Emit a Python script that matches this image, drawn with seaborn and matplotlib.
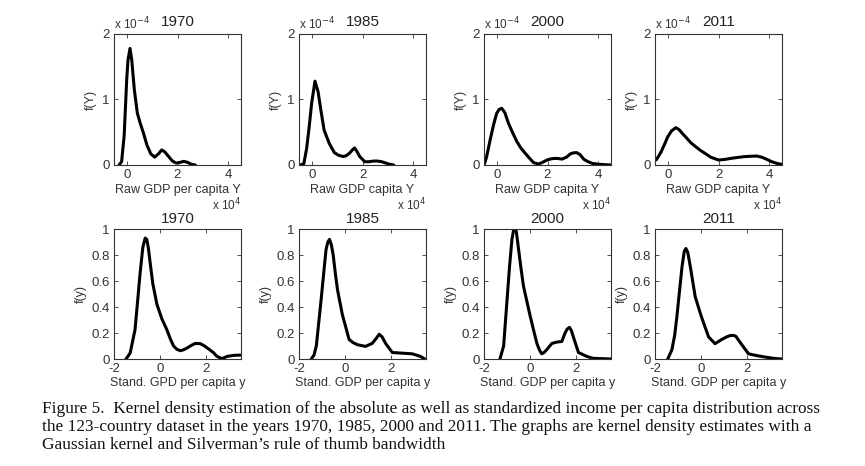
import matplotlib
matplotlib.use("Agg")
import matplotlib.pyplot as plt
import seaborn as sns

# ---- data ----
years = ["1970", "1985", "2000", "2011"]

# raw GDP per capita (x in 1e4, density in 1e-4)
raw_x_1970 = [-0.3, -0.2, -0.1, 0.0, 0.05, 0.13, 0.2, 0.3, 0.42, 0.53, 0.65, 0.8, 0.95, 1.1, 1.25, 1.38, 1.5, 1.65, 1.8, 1.95, 2.1, 2.25, 2.4, 2.55, 2.7]
raw_y_1970 = [0.0, 0.05, 0.45, 1.3, 1.6, 1.78, 1.6, 1.15, 0.79, 0.64, 0.5, 0.3, 0.17, 0.12, 0.17, 0.23, 0.2, 0.13, 0.06, 0.03, 0.04, 0.056, 0.04, 0.01, 0.0]
raw_x_1985 = [-0.44, -0.31, -0.2, -0.1, 0.0, 0.13, 0.25, 0.36, 0.49, 0.69, 0.89, 1.05, 1.23, 1.35, 1.49, 1.6, 1.69, 1.79, 1.89, 2.09, 2.25, 2.43, 2.6, 2.76, 3.03, 3.23]
raw_y_1985 = [0.0, 0.02, 0.25, 0.58, 0.95, 1.28, 1.12, 0.84, 0.53, 0.33, 0.19, 0.15, 0.13, 0.14, 0.18, 0.23, 0.26, 0.2, 0.13, 0.05, 0.05, 0.06, 0.06, 0.05, 0.015, 0.0]
raw_x_2000 = [-0.49, -0.4, -0.26, -0.12, 0.0, 0.1, 0.2, 0.32, 0.46, 0.62, 0.79, 0.95, 1.12, 1.3, 1.45, 1.65, 1.8, 1.98, 2.1, 2.24, 2.4, 2.57, 2.75, 2.9, 3.02, 3.14, 3.28, 3.43, 3.6, 3.76, 4.03, 4.5]
raw_y_2000 = [0.01, 0.12, 0.38, 0.62, 0.79, 0.85, 0.865, 0.8, 0.64, 0.5, 0.36, 0.26, 0.18, 0.1, 0.036, 0.015, 0.04, 0.076, 0.09, 0.1, 0.1, 0.09, 0.12, 0.17, 0.185, 0.19, 0.16, 0.087, 0.05, 0.025, 0.01, 0.0]
raw_x_2011 = [-0.45, -0.35, -0.26, -0.12, 0.0, 0.15, 0.32, 0.45, 0.58, 0.75, 0.91, 1.1, 1.3, 1.5, 1.69, 2.0, 2.25, 2.47, 2.75, 2.99, 3.25, 3.5, 3.7, 3.9, 4.1, 4.29, 4.48]
raw_y_2011 = [0.08, 0.14, 0.2, 0.32, 0.43, 0.52, 0.57, 0.54, 0.48, 0.41, 0.34, 0.28, 0.22, 0.17, 0.12, 0.076, 0.085, 0.1, 0.115, 0.127, 0.133, 0.137, 0.12, 0.087, 0.05, 0.025, 0.01]

# standardized GDP per capita
std_x_1970 = [-1.48, -1.3, -1.09, -0.98, -0.87, -0.75, -0.65, -0.58, -0.51, -0.42, -0.32, -0.14, 0.07, 0.29, 0.45, 0.58, 0.72, 0.87, 1.0, 1.16, 1.35, 1.52, 1.74, 1.92, 2.1, 2.3, 2.46, 2.68, 2.9, 3.19, 3.48]
std_y_1970 = [0.0, 0.046, 0.225, 0.44, 0.66, 0.86, 0.93, 0.92, 0.85, 0.72, 0.58, 0.42, 0.31, 0.225, 0.15, 0.1, 0.075, 0.064, 0.07, 0.084, 0.105, 0.12, 0.118, 0.1, 0.077, 0.05, 0.02, 0.003, 0.02, 0.028, 0.03]
std_x_1985 = [-1.47, -1.35, -1.25, -1.04, -0.93, -0.83, -0.75, -0.68, -0.6, -0.52, -0.42, -0.33, -0.12, 0.17, 0.35, 0.53, 0.88, 1.17, 1.35, 1.47, 1.6, 1.75, 2.04, 2.47, 2.9, 3.26, 3.45]
std_y_1985 = [0.0, 0.03, 0.1, 0.46, 0.66, 0.84, 0.9, 0.92, 0.88, 0.8, 0.65, 0.53, 0.34, 0.15, 0.125, 0.11, 0.097, 0.12, 0.16, 0.19, 0.17, 0.12, 0.05, 0.045, 0.04, 0.02, 0.0]
std_x_2000 = [-1.31, -1.15, -1.0, -0.89, -0.79, -0.69, -0.6, -0.5, -0.4, -0.29, 0.0, 0.15, 0.29, 0.4, 0.5, 0.6, 0.71, 0.94, 1.15, 1.37, 1.51, 1.6, 1.7, 1.78, 1.87, 2.09, 2.45, 2.74, 3.5]
std_y_2000 = [0.0, 0.1, 0.46, 0.72, 0.92, 1.02, 0.98, 0.84, 0.7, 0.56, 0.33, 0.22, 0.12, 0.07, 0.04, 0.05, 0.07, 0.12, 0.13, 0.135, 0.2, 0.23, 0.243, 0.22, 0.17, 0.05, 0.02, 0.005, 0.0]
std_x_2011 = [-1.45, -1.27, -1.15, -1.05, -0.94, -0.83, -0.73, -0.66, -0.58, -0.47, -0.26, 0.0, 0.32, 0.6, 0.89, 1.1, 1.25, 1.4, 1.5, 1.6, 1.76, 2.05, 2.41, 2.77, 3.13, 3.49]
std_y_2011 = [0.0, 0.07, 0.18, 0.33, 0.52, 0.71, 0.83, 0.85, 0.82, 0.71, 0.48, 0.33, 0.17, 0.118, 0.15, 0.17, 0.18, 0.182, 0.175, 0.15, 0.11, 0.04, 0.026, 0.015, 0.005, 0.0]

raw_curves = [(raw_x_1970, raw_y_1970), (raw_x_1985, raw_y_1985),
              (raw_x_2000, raw_y_2000), (raw_x_2011, raw_y_2011)]
std_curves = [(std_x_1970, std_y_1970), (std_x_1985, std_y_1985),
              (std_x_2000, std_y_2000), (std_x_2011, std_y_2011)]

raw_xlabels = ["Raw GDP per capita Y", "Raw GDP capita Y", "Raw GDP capita Y", "Raw GDP capita Y"]
std_xlabels = ["Stand. GPD per capita y", "Stand. GDP per capita y",
               "Stand. GDP per capita y", "Stand. GDP per capita y"]

raw_xticks = [0, 2, 4]
raw_yticks = [0, 1, 2]
std_xticks = [-2, 0, 2]
std_yticks = [0, 0.2, 0.4, 0.6, 0.8, 1]
std_ytick_labels = ["0", "0.2", "0.4", "0.6", "0.8", "1"]

caption = ("Figure 5.  Kernel density estimation of the absolute as well as standardized income per capita distribution across\n"
           "the 123-country dataset in the years 1970, 1985, 2000 and 2011. The graphs are kernel density estimates with a\n"
           "Gaussian kernel and Silverman\u2019s rule of thumb bandwidth")

# ---- style ----
sns.set_theme(style="ticks")
plt.rcParams["font.family"] = ["Liberation Sans", "DejaVu Sans"]
plt.rcParams["axes.linewidth"] = 0.8
plt.rcParams["axes.edgecolor"] = "#333333"
plt.rcParams["axes.unicode_minus"] = False

W, H = 865, 466
fig = plt.figure(figsize=(W / 100, H / 100), dpi=100)
fig.patch.set_facecolor("white")

lefts = [114, 299, 484, 655]
ax_w = 127


def make_ax(left, top, height):
    return fig.add_axes([left / W, 1 - (top + height) / H, ax_w / W, height / H])


def style_ax(ax):
    ax.tick_params(direction="in", top=True, right=True, length=3, width=0.6,
                   labelsize=9.5, colors="#333333", pad=3)
    for s in ax.spines.values():
        s.set_visible(True)


for i in range(4):
    # top row: raw GDP
    ax = make_ax(lefts[i], 34, 131)
    x, y = raw_curves[i]
    sns.lineplot(x=x, y=y, ax=ax, color="black", linewidth=2.2, sort=False)
    ax.lines[-1].set_solid_joinstyle("round")
    ax.set_xlim(-0.5, 4.5)
    ax.set_ylim(0, 2)
    ax.set_xticks(raw_xticks)
    ax.set_yticks(raw_yticks)
    style_ax(ax)
    ax.set_title(years[i], fontsize=11, pad=6, color="#222222")
    ax.set_ylabel("f(Y)", fontsize=9, color="#333333", labelpad=4)
    ax.set_xlabel(raw_xlabels[i], fontsize=9, color="#333333", labelpad=2)
    ax.text(0.0, 1.01, r"x 10$^{-4}$", transform=ax.transAxes, fontsize=8.5,
            color="#333333", ha="left", va="bottom")
    ax.text(1.0, -0.245, r"x 10$^{4}$", transform=ax.transAxes, fontsize=8.5,
            color="#333333", ha="right", va="top")

    # bottom row: standardized GDP
    ax = make_ax(lefts[i], 229, 130)
    x, y = std_curves[i]
    sns.lineplot(x=x, y=y, ax=ax, color="black", linewidth=2.2, sort=False)
    ax.lines[-1].set_solid_joinstyle("round")
    ax.set_xlim(-2, 3.5)
    ax.set_ylim(0, 1)
    ax.set_xticks(std_xticks)
    ax.set_yticks(std_yticks)
    ax.set_yticklabels(std_ytick_labels)
    style_ax(ax)
    ax.set_title(years[i], fontsize=11, pad=4, color="#222222")
    ax.set_ylabel("f(y)", fontsize=9, color="#333333", labelpad=3)
    ax.set_xlabel(std_xlabels[i], fontsize=9, color="#333333", labelpad=1)

fig.text(42 / W, 1 - 401 / H, caption, fontsize=12.4, family=["Liberation Serif", "DejaVu Serif"],
         ha="left", va="top", linespacing=1.18, color="#111111")

fig.savefig("out.png", dpi=100, facecolor="white")
